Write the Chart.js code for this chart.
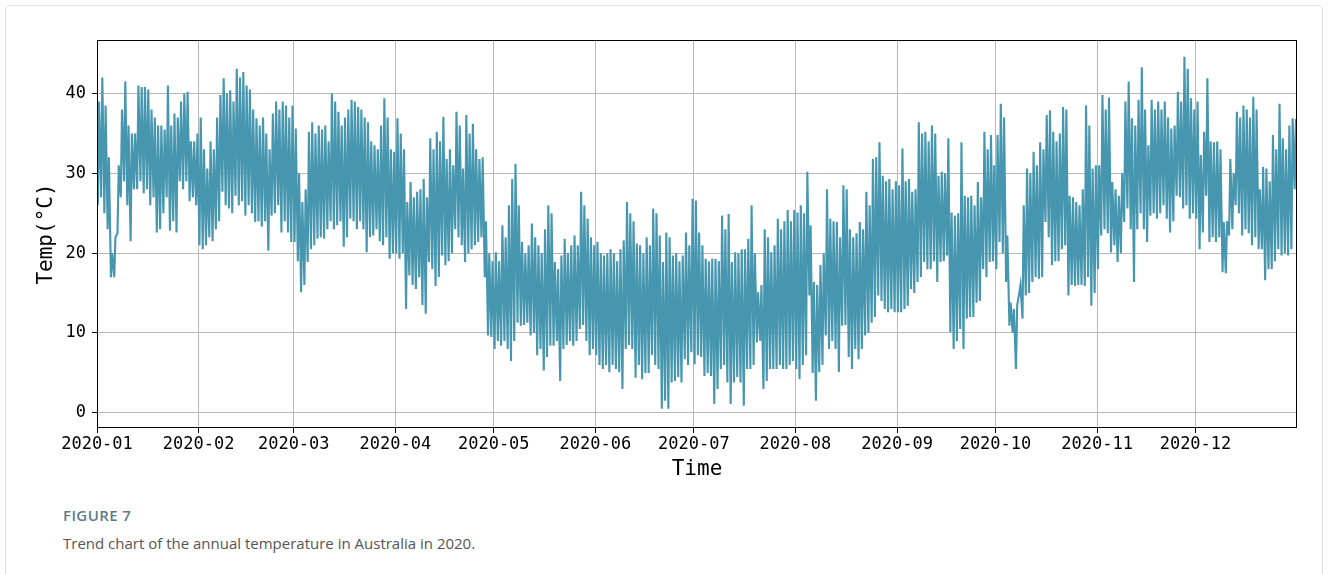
<!DOCTYPE html>
<html>
<head>
<meta charset="utf-8">
<title>Figure 7</title>
<script src="https://cdn.jsdelivr.net/npm/chart.js@4.4.0/dist/chart.umd.min.js"></script>
<style>
  body { margin: 0; background: #fff; width: 1328px; height: 574px; overflow: hidden; position: relative; font-family: 'Open Sans', sans-serif; }
  .frame { position: absolute; left: 5px; top: 5px; width: 1316px; height: 600px; border: 1px solid #e2e2e2; border-radius: 4px; }
  .chart-box { position: absolute; left: 0; top: 0; width: 1328px; height: 490px; }
  .fig-label { position: absolute; left: 63px; top: 505px; font-size: 15px; font-weight: 600; color: #5d7b89; letter-spacing: 0.4px; }
  .caption { position: absolute; left: 63px; top: 533px; font-size: 15px; color: #555; }
</style>
</head>
<body>
<div class="frame"></div>
<div class="chart-box"><canvas id="graficoTemp"></canvas></div>
<div class="fig-label">FIGURE 7</div>
<div class="caption">Trend chart of the annual temperature in Australia in 2020.</div>

<script>
// etiquetas del eje x (inicio de cada mes) y del eje y
const monthLabels = ['2020-01', '2020-02', '2020-03', '2020-04', '2020-05', '2020-06',
                     '2020-07', '2020-08', '2020-09', '2020-10', '2020-11', '2020-12'];
const monthStartDay = [0, 31, 60, 91, 121, 152, 182, 213, 244, 274, 305, 335];
const tempTicks = [0, 10, 20, 30, 40];

// hora aproximada del mínimo y del máximo diario
const lowHour = 6;
const highHour = 15;

// máximas diarias (°C)
const dailyHigh = [
  // ene
  39, 42, 38.5, 32, 20, 22, 31, 38, 41.5, 36, 35, 35, 41, 40.8, 40.8, 40.5, 38, 37, 36, 36, 35.5, 41, 36, 37.5, 37, 39, 40, 40.2, 34, 34, 35,
  // feb
  37, 33, 30.6, 34, 33, 37, 39.8, 41.9, 40, 40.4, 39, 43.1, 42, 42.7, 41, 40.5, 38, 36.9, 36, 37, 35, 33, 37.5, 39, 38, 39, 38.5, 37, 38.5,
  // mar
  35.6, 30, 26.4, 28, 35.2, 36.4, 35, 36, 35.5, 36, 34, 40, 39, 37.7, 36, 37, 38, 39.2, 39, 38.3, 38, 37, 36.4, 34, 33.5, 33, 36, 39.4, 37, 33, 32.7,
  // abr
  36.9, 35, 33, 26.4, 28.9, 27, 27.7, 28, 29.3, 27, 34.4, 33, 35.2, 34, 37.1, 31.8, 33, 31, 37.7, 36, 30.6, 37.3, 35, 36.2, 33, 31.8, 32, 24, 20, 19,
  // may
  20.1, 19, 23.5, 22, 26, 29.3, 31.2, 26, 21.4, 20, 21, 23.7, 22, 21, 20, 23, 26, 25, 18.9, 18, 19.7, 21.8, 20, 21, 22.2, 21, 27.7, 26, 24.3, 22, 21,
  // jun
  21.4, 20, 19.7, 20, 20.5, 20, 19, 20.5, 21.6, 26.4, 25, 24, 21.2, 21, 20, 22, 21, 25.6, 25, 22.2, 18.9, 22.6, 22, 19.7, 20, 19, 19.7, 22.6, 21, 26.8,
  // jul
  26.6, 22.6, 21, 19.3, 19, 19.3, 19.3, 19, 24.7, 23, 24.9, 18.9, 20.1, 20, 20.5, 20.5, 21.8, 26, 20, 15.1, 16, 23, 22, 20.1, 21, 24.3, 23, 24, 25.4, 24, 25.4,
  // ago
  25.1, 26, 25, 30.2, 23.5, 16.4, 16, 18.5, 20, 28, 24.3, 24, 23.9, 22, 28.5, 28, 23, 22, 22.5, 23.9, 23, 27.7, 26, 31.8, 32, 33.9, 29.7, 29, 29.3, 28, 29,
  // sep
  28.5, 33.1, 29, 29.3, 27.7, 28, 36.4, 35, 35.2, 34, 36, 35, 29.7, 30.2, 30, 34.4, 25.1, 24.7, 25, 33.9, 27.2, 27, 27.2, 26, 28.9, 27, 35.2, 33, 34.8, 31,
  // oct
  34.8, 38.7, 37, 22.2, 13.8, 13, 13.5, 16, 26, 30.6, 30, 32.7, 31, 33.9, 33, 37.3, 37.9, 35.2, 34, 35, 38.3, 38, 27.2, 27, 26.4, 26, 28, 38.5, 36, 30.6, 31,
  // nov
  31, 39.8, 38, 39.5, 28.9, 28, 27.2, 30, 39, 41.5, 36.9, 36, 39.2, 43.3, 38, 33.5, 39.2, 38, 39, 38, 39, 37, 35.6, 36, 40.2, 39, 44.6, 43.1, 39.4, 38,
  // dic
  39, 32.3, 35.2, 41.9, 34, 33.9, 34, 33, 23.9, 24, 31.8, 30, 37.7, 37, 38.5, 38, 37, 39.6, 38, 28, 30.8, 30.6, 29, 34.8, 33, 38.7, 34.4, 33, 36, 36.9, 36.8
];

// mínimas diarias (°C)
const dailyLow = [
  // ene
  26, 27, 25, 23, 17, 17, 22.5, 27, 29, 26, 21.5, 28, 28, 29, 27.5, 28, 26, 27, 22.6, 23, 25, 27, 22.8, 24, 22.6, 29, 28, 29, 26.5, 27, 26,
  // feb
  21, 20.5, 21, 22, 21.5, 23, 24, 27.7, 26, 25.6, 25, 27.2, 26, 26.5, 24.7, 26, 25, 23.9, 24, 23.3, 24, 20.3, 24.7, 25, 26, 22.6, 24, 22.6, 21.4,
  // mar
  21.4, 19, 15.1, 16, 18.9, 20.5, 21, 21.8, 22, 21.8, 23, 24, 23, 23.5, 24, 20.8, 22, 24.3, 24, 23, 24, 23, 20.1, 22, 22.2, 23, 21.5, 21, 22, 19.3, 20,
  // abr
  20, 19.3, 20, 13, 17.2, 16, 15.5, 17, 13.5, 12.4, 18.9, 18, 15.9, 17, 19.7, 18.5, 19, 20, 23, 22, 21, 18.9, 20, 20.5, 21, 21.4, 22, 17, 9.7, 9.5,
  // may
  8, 9, 8.4, 9, 8, 6.5, 9, 11.3, 10.9, 11, 11.3, 9.7, 10, 7.2, 8, 5.3, 7, 8.4, 8.4, 9, 4, 8, 8.5, 9, 8.4, 9, 10.5, 11, 9, 7.2, 8,
  // jun
  7.2, 6, 5.5, 6, 5.1, 6, 5.5, 5.1, 3, 8, 8.5, 8, 4.4, 6, 4.2, 5, 5, 7.2, 6, 5.5, 0.5, 1.5, 0.5, 3.8, 4, 4.5, 3.8, 6.7, 6, 7.6,
  // jul
  6.1, 7.2, 7, 4.6, 5, 4.6, 1.1, 3, 5.5, 6, 3.8, 1.1, 3.8, 4.5, 3.8, 0.9, 5.5, 5.5, 6, 8.8, 9, 3, 4, 5.5, 5.5, 5.5, 6, 5.5, 5.5, 6, 6.5,
  // ago
  5.5, 4.2, 6, 7.2, 14.7, 5, 1.5, 5.1, 6, 9.7, 8, 9, 8, 5.1, 10.9, 11, 7, 5.5, 8, 6.7, 8, 9.7, 10, 11.3, 12, 14.7, 14, 13, 12.6, 13, 12.6,
  // sep
  12.6, 12.6, 13, 13.4, 15.5, 15, 16.4, 17, 18.9, 18, 18, 19, 16.4, 18.9, 19, 19.7, 10.1, 8, 9, 10.5, 8, 11.8, 12, 12, 13.8, 14, 18, 17, 18.9, 19,
  // oct
  18, 21.4, 20, 16.4, 10.9, 10, 5.5, 15, 11.8, 14.7, 15, 16.4, 17, 16.8, 17, 23.9, 22, 18.5, 19, 19, 20.5, 21, 14.7, 16, 15.9, 16, 16, 15.9, 17, 13.4, 15,
  // nov
  18, 22.2, 23, 22.5, 20.1, 21, 18.9, 20, 23.9, 25.6, 23, 16.4, 23, 25, 23, 21.4, 24.7, 25, 24.3, 25, 26, 24.3, 22.6, 24, 27.2, 27, 25.6, 26, 24.3, 25,
  // dic
  24.3, 20.5, 22.6, 27.2, 21.4, 22, 21.4, 22, 17.6, 17.5, 22.2, 23, 26, 25, 22.2, 23, 22.5, 21, 22, 20.5, 20.5, 16.6, 18, 18, 19, 20.5, 19.7, 20, 19.7, 20.5, 28
];

document.addEventListener('DOMContentLoaded', () => {
    const canvas = document.getElementById('graficoTemp');

    // puntos: mínimo y máximo de cada día, en días desde el 1 de enero
    const puntos = [];
    dailyHigh.forEach((alta, dia) => {
        puntos.push({ x: dia + lowHour / 24, y: dailyLow[dia] });
        puntos.push({ x: dia + highHour / 24, y: alta });
    });

    // marco negro alrededor del área de trazado (estilo matplotlib)
    const marco = {
        id: 'marco',
        afterDraw(chart) {
            const { ctx, chartArea: a } = chart;
            ctx.save();
            ctx.strokeStyle = '#000';
            ctx.lineWidth = 1;
            ctx.strokeRect(Math.round(a.left) + 0.5, Math.round(a.top) + 0.5,
                           Math.round(a.width) - 1, Math.round(a.height) - 1);
            ctx.restore();
        }
    };

    const fuenteEjes = "'DejaVu Sans Mono', 'Liberation Mono', monospace";

    new Chart(canvas, {
        type: 'line',
        data: {
            datasets: [{
                data: puntos,
                borderColor: '#4596ae',
                borderWidth: 2.1,
                pointRadius: 0,
                tension: 0,
                fill: false
            }]
        },
        options: {
            responsive: true,
            maintainAspectRatio: false,
            animation: false,
            events: [],
            layout: { padding: { top: 40, right: 31, bottom: 10, left: 36 } },
            plugins: { legend: { display: false }, tooltip: { enabled: false } },
            scales: {
                x: {
                    type: 'linear',
                    min: 0,
                    max: 366 - 1 / 24,
                    afterFit: (scale) => { scale.height = 52; },
                    afterBuildTicks: (scale) => { scale.ticks = monthStartDay.map(v => ({ value: v })); },
                    ticks: {
                        autoSkip: false,
                        maxRotation: 0,
                        padding: 1,
                        color: '#000',
                        font: { family: fuenteEjes, size: 17 },
                        callback: (value) => monthLabels[monthStartDay.indexOf(value)]
                    },
                    grid: { color: '#b8b8b8', lineWidth: 1, tickColor: '#000', tickLength: 5 },
                    border: { display: false },
                    title: {
                        display: true,
                        text: 'Time',
                        color: '#000',
                        padding: { top: 0, bottom: 0 },
                        font: { family: fuenteEjes, size: 21, lineHeight: 1 }
                    }
                },
                y: {
                    min: -1.9,
                    max: 46.7,
                    afterFit: (scale) => { scale.width = 61; },
                    afterBuildTicks: (scale) => { scale.ticks = tempTicks.map(v => ({ value: v })); },
                    ticks: {
                        padding: 6,
                        color: '#000',
                        font: { family: fuenteEjes, size: 17 }
                    },
                    grid: { color: '#b8b8b8', lineWidth: 1, tickColor: '#000', tickLength: 5 },
                    border: { display: false },
                    title: {
                        display: true,
                        text: 'Temp(°C)',
                        color: '#000',
                        padding: { top: 0, bottom: 0 },
                        font: { family: fuenteEjes, size: 21, lineHeight: 1 }
                    }
                }
            }
        },
        plugins: [marco]
    });
});
</script>
</body>
</html>
